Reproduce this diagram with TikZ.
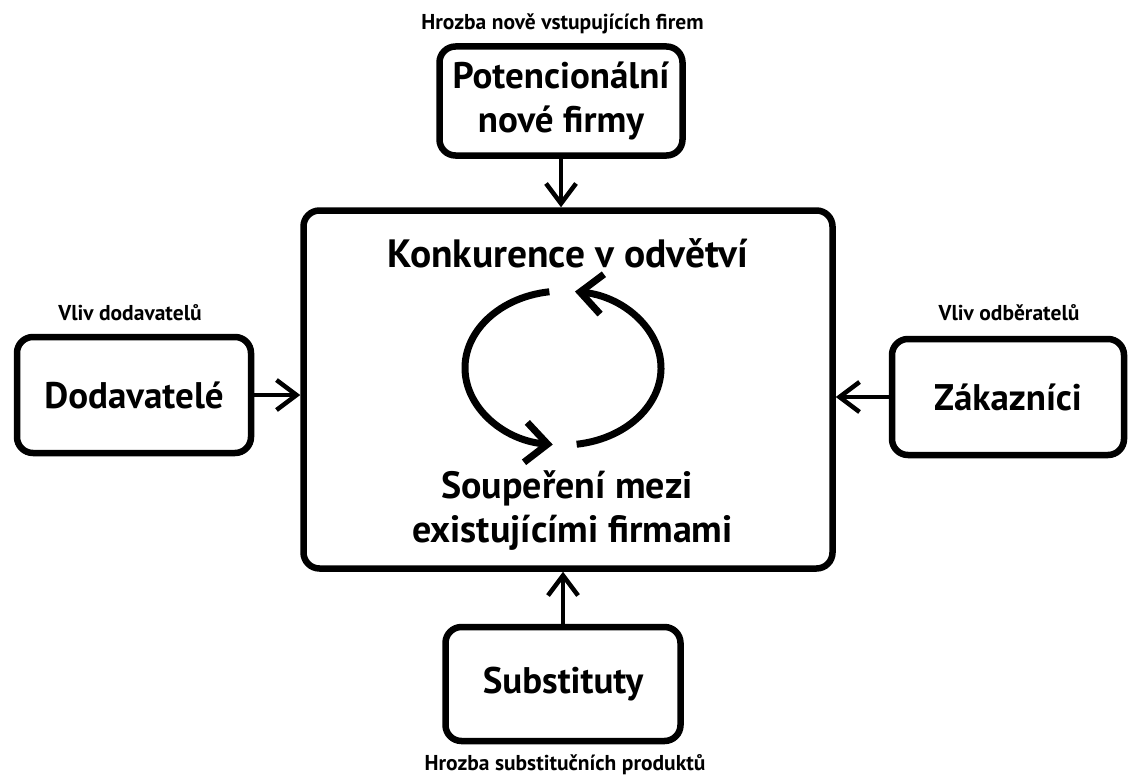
\documentclass[tikz,border=0pt]{standalone}
\usepackage{fontspec}
\setmainfont{PT Sans}
\usetikzlibrary{arrows.meta}
\begin{document}
\begin{tikzpicture}[x=1pt,y=-1pt,
  box/.style={draw, line width=6.5pt, rounded corners=16pt, inner sep=0pt,
    align=center, font=\bfseries\fontsize{37}{44}\selectfont},
  big/.style={anchor=base, inner sep=0pt, font=\bfseries\fontsize{38}{44}\selectfont},
  tag/.style={anchor=base, inner sep=0pt, font=\bfseries\fontsize{21.5}{24}\selectfont},
  link/.style={line width=4.5pt, -{Straight Barb[length=20pt,width=30pt]}},
  cyc/.style={line width=7pt, -{Straight Barb[length=22pt,width=40pt]}}
]
\useasboundingbox (0,0) rectangle (1129,776);

% outer forces
\node[box, minimum width=243pt, minimum height=109pt] (entry) at (561,101) {Potencionální\\nové firmy};
\node[box, minimum width=234pt, minimum height=116pt] (supp) at (134,395) {Dodavatelé};
\node[box, minimum width=232pt, minimum height=116pt] (cust) at (1008,397) {Zákazníci};
\node[box, minimum width=235pt, minimum height=114pt] (subs) at (563,684) {Substituty};

% central rivalry box
\node[box, minimum width=529pt, minimum height=358pt] (main) at (568,389.5) {};
\node[big, font=\bfseries\fontsize{39.5}{44}\selectfont] (comp) at (567.5,267) {Konkurence v odvětví};
\node[big] (riv1) at (567,498) {Soupeření mezi};
\node[big] (riv2) at (572.5,542) {existujícími firmami};

% captions
\node[tag] (tEntry) at (562.5,30) {Hrozba nově vstupujících firem};
\node[tag] (tSupp) at (130,320) {Vliv dodavatelů};
\node[tag] (tCust) at (1009,320) {Vliv odběratelů};
\node[tag] (tSubs) at (565,770) {Hrozba substitučních produktů};

% force arrows
\draw[link] (entry.south) -- (entry.south |- main.north);
\draw[link] (supp.east) -- (supp.east -| main.west);
\draw[link] (cust.west) -- (cust.west -| main.east);
\draw[link] (subs.north) -- (subs.north |- main.south);

% rivalry cycle
\coordinate (cyc) at (563,368);
\draw[cyc] (cyc) ++(98:98pt and 77pt) arc[start angle=98, end angle=264, x radius=98pt, y radius=77pt];
\draw[cyc] (cyc) ++(278:98pt and 77pt) arc[start angle=278, end angle=443, x radius=98pt, y radius=77pt];
\end{tikzpicture}
\end{document}
